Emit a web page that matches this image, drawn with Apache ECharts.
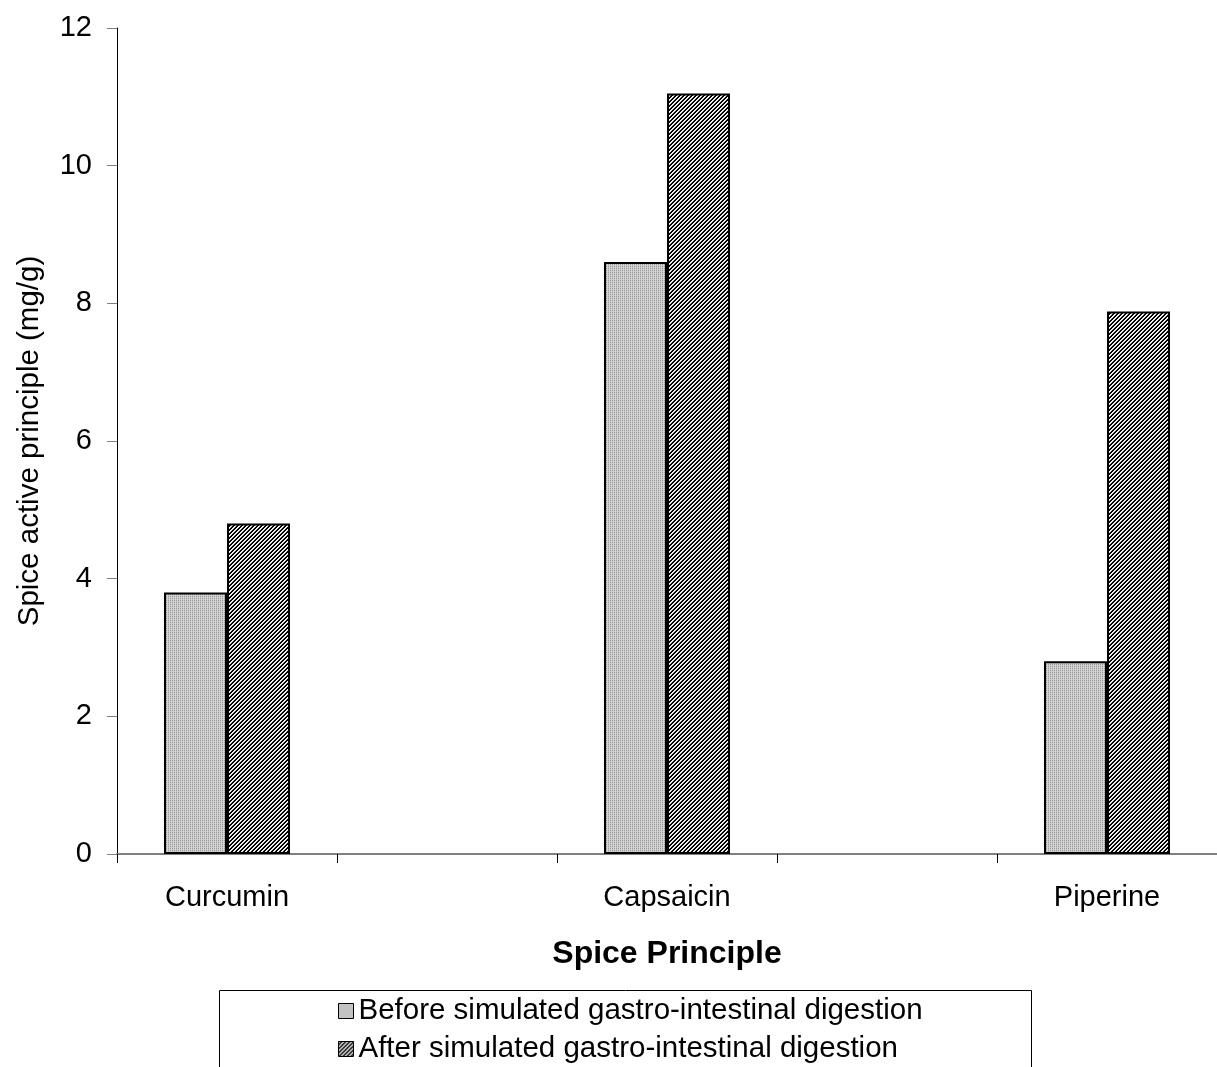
<!DOCTYPE html>
<html>
<head>
<meta charset="utf-8">
<script src="https://cdn.jsdelivr.net/npm/echarts@6/dist/echarts.min.js"></script>
<style>
  html, body { margin: 0; padding: 0; background: #fff; }
  #chart { width: 1217px; height: 1067px; }
</style>
</head>
<body>
<div id="chart"></div>
<script>
// Categories (blank slots keep the wide spacing between the three spices)
const categories = ['Curcumin', '', 'Capsaicin', '', 'Piperine'];
// Spice active principle content, mg/g
const beforeDigestion = [3.8, '-', 8.6, '-', 2.8];
const afterDigestion = [4.8, '-', 11.05, '-', 7.88];
const yTicks = { min: 0, max: 12, interval: 2 };
const seriesNames = [
  'Before simulated gastro-intestinal digestion',
  'After simulated gastro-intestinal digestion'
];

// Fill textures for the two series
function makePattern(size, painter) {
  const c = document.createElement('canvas');
  c.width = size; c.height = size;
  const ctx = c.getContext('2d');
  for (let y = 0; y < size; y++) {
    for (let x = 0; x < size; x++) {
      ctx.fillStyle = painter(x, y);
      ctx.fillRect(x, y, 1, 1);
    }
  }
  return { image: c, repeat: 'repeat' };
}
// light grey, fine vertical dotted stripes
const greyFill = makePattern(4, (x, y) => {
  if (x % 2 === 1) return '#d6d6d6';
  return (y % 2 === 0) ? '#999999' : '#c4c4c4';
});
// dark diagonal hatch "/"
const hatchFill = makePattern(4, (x, y) => {
  const k = (x + y) % 4;
  if (k === 0) return '#ffffff';
  if (k === 1) return '#d8d8d8';
  return '#000000';
});

const FONT = '"Liberation Sans", Arial, sans-serif';

const chart = echarts.init(document.getElementById('chart'), null, { renderer: 'canvas' });
chart.setOption({
  backgroundColor: '#ffffff',
  animation: false,
  grid: { left: 117, top: 28, width: 1102, height: 826, containLabel: false },
  xAxis: {
    type: 'category',
    data: categories,
    name: 'Spice Principle',
    nameLocation: 'middle',
    nameGap: 84,
    nameTextStyle: { fontFamily: FONT, fontSize: 32, fontWeight: 'bold', color: '#000' },
    axisLine: { lineStyle: { color: '#808080', width: 2 } },
    axisTick: { show: true, length: 9, lineStyle: { color: '#000', width: 1 } },
    axisLabel: { fontFamily: FONT, fontSize: 29, color: '#000', margin: 29, interval: 0 },
    splitLine: { show: false }
  },
  yAxis: {
    type: 'value',
    min: yTicks.min,
    max: yTicks.max,
    interval: yTicks.interval,
    name: 'Spice active principle (mg/g)',
    nameLocation: 'middle',
    nameGap: 72,
    nameTextStyle: { fontFamily: FONT, fontSize: 29.5, color: '#000' },
    axisLine: { show: true, lineStyle: { color: '#000', width: 1 } },
    axisTick: { show: true, length: 10, lineStyle: { color: '#808080', width: 1 } },
    axisLabel: { fontFamily: FONT, fontSize: 29, color: '#000', margin: 25 },
    splitLine: { show: false }
  },
  legend: {
    orient: 'vertical',
    left: 338,
    top: 996,
    padding: 0,
    itemGap: 8,
    itemWidth: 15,
    itemHeight: 15,
    itemStyle: { borderColor: '#000', borderWidth: 1 },
    textStyle: { fontFamily: FONT, fontSize: 29.5, color: '#000', padding: [0, 0, 0, 0] },
    data: seriesNames.map(n => ({ name: n, icon: 'rect' }))
  },
  graphic: [{
    type: 'rect',
    left: 217,
    top: 988,
    shape: { width: 812, height: 120 },
    style: { fill: 'none', stroke: '#000', lineWidth: 1 },
    silent: true,
    z: -1
  }],
  series: [
    {
      name: seriesNames[0],
      type: 'bar',
      data: beforeDigestion,
      barWidth: 63,
      barGap: '0%',
      itemStyle: { color: greyFill, borderColor: '#000', borderWidth: 2 }
    },
    {
      name: seriesNames[1],
      type: 'bar',
      data: afterDigestion,
      barWidth: 63,
      barGap: '0%',
      itemStyle: { color: hatchFill, borderColor: '#000', borderWidth: 2 }
    }
  ]
});
</script>
</body>
</html>
